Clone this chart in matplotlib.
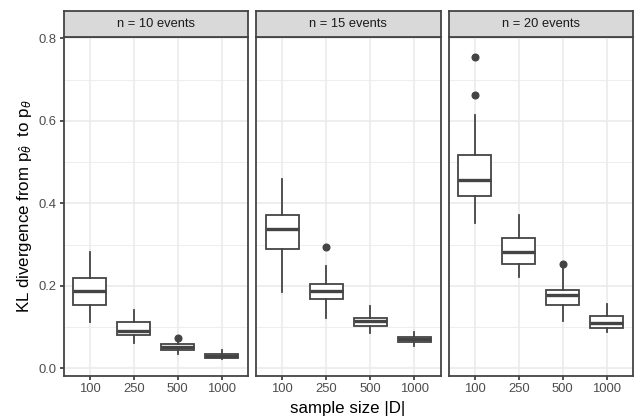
import matplotlib
matplotlib.use("Agg")
import matplotlib.pyplot as plt

plt.rcParams['font.family'] = ['Liberation Sans', 'DejaVu Sans']
plt.rcParams['mathtext.fontset'] = 'custom'
plt.rcParams['mathtext.rm'] = 'Liberation Sans'
plt.rcParams['mathtext.it'] = 'Liberation Sans:italic'
plt.rcParams['mathtext.bf'] = 'Liberation Sans:bold'

# ---- data ----
panels = ["n = 10 events", "n = 15 events", "n = 20 events"]
sample_sizes = ["100", "250", "500", "1000"]

# each row: [whisker_low, q1, median, q3, whisker_high]
stats_n10 = [[0.113, 0.153, 0.187, 0.220, 0.281],
             [0.061, 0.081, 0.091, 0.113, 0.141],
             [0.035, 0.044, 0.052, 0.059, 0.064],
             [0.022, 0.024, 0.030, 0.035, 0.044]]
out_n10 = [[], [], [0.074], []]

stats_n15 = [[0.186, 0.289, 0.337, 0.372, 0.459],
             [0.121, 0.168, 0.188, 0.204, 0.248],
             [0.085, 0.103, 0.114, 0.123, 0.152],
             [0.055, 0.064, 0.070, 0.076, 0.089]]
out_n15 = [[], [0.295], [], []]

stats_n20 = [[0.353, 0.417, 0.457, 0.517, 0.614],
             [0.222, 0.253, 0.282, 0.317, 0.371],
             [0.115, 0.153, 0.178, 0.191, 0.246],
             [0.087, 0.098, 0.111, 0.127, 0.156]]
out_n20 = [[0.754, 0.663], [], [0.254], []]

all_stats = [stats_n10, stats_n15, stats_n20]
all_out = [out_n10, out_n15, out_n20]

y_ticks = [0.0, 0.2, 0.4, 0.6, 0.8]
y_minor = [0.1, 0.3, 0.5, 0.7]

# ---- layout ----
W, H = 634, 418
fig = plt.figure(figsize=(W / 100, H / 100), dpi=100)
fig.patch.set_facecolor('white')

lefts = [63.5, 256.0, 448.5]
pw = 184.5
p_top, p_bot = 36.7, 375.5
s_top = 11.0

dark = '#444444'
lw = 1.3
grid_c = '#EBEBEB'

for i, (title, st, outs) in enumerate(zip(panels, all_stats, all_out)):
    ax = fig.add_axes([lefts[i] / W, 1 - p_bot / H, pw / W, (p_bot - p_top) / H])
    ax.set_facecolor('white')
    # grid
    for y in y_minor:
        ax.axhline(y, color=grid_c, lw=0.6, zorder=0)
    for y in y_ticks:
        ax.axhline(y, color=grid_c, lw=1.2, zorder=0)
    for x in range(1, len(sample_sizes) + 1):
        ax.axvline(x, color=grid_c, lw=1.2, zorder=0)

    bxp_stats = []
    for j, s in enumerate(st):
        bxp_stats.append(dict(whislo=s[0], q1=s[1], med=s[2], q3=s[3],
                              whishi=s[4], fliers=outs[j]))
    ax.bxp(bxp_stats, positions=range(1, len(sample_sizes) + 1), widths=0.75,
           showcaps=False, patch_artist=True,
           boxprops=dict(facecolor='white', edgecolor=dark, linewidth=lw),
           whiskerprops=dict(color=dark, linewidth=lw),
           medianprops=dict(color=dark, linewidth=2.4, solid_capstyle='butt'),
           flierprops=dict(marker='o', markerfacecolor=dark, markeredgecolor=dark,
                           markersize=4.8, linestyle='none'),
           zorder=3)

    ax.set_xlim(0.4, 4.6)
    ax.set_ylim(-0.0175, 0.804)
    ax.set_xticks(range(1, len(sample_sizes) + 1))
    ax.set_xticklabels(sample_sizes)
    ax.set_yticks(y_ticks)
    if i == 0:
        ax.set_yticklabels([f"{v:.1f}" for v in y_ticks])
        ax.tick_params(axis='y', length=3, width=lw, color=dark,
                       labelsize=9.4, labelcolor='#4D4D4D', pad=2.2)
    else:
        ax.tick_params(axis='y', length=0, labelleft=False)
    ax.tick_params(axis='x', length=3, width=lw, color=dark,
                   labelsize=9.4, labelcolor='#4D4D4D', pad=2.2)
    for sp in ax.spines.values():
        sp.set_color(dark)
        sp.set_linewidth(lw)
        sp.set_zorder(5)

    # strip
    sax = fig.add_axes([lefts[i] / W, 1 - p_top / H, pw / W, (p_top - s_top) / H])
    sax.set_xticks([]); sax.set_yticks([])
    sax.set_facecolor('#D9D9D9')
    for sp in sax.spines.values():
        sp.set_color(dark)
        sp.set_linewidth(lw)
    sax.text(0.5, 0.5, title, ha='center', va='center', fontsize=9.3,
             color='#1A1A1A', transform=sax.transAxes)

fig.text(348 / W, 1 - 408 / H, "sample size |D|", ha='center', va='center',
         fontsize=12.2, color='black')
fig.text(25 / W, 1 - 206 / H,
         r"KL divergence from $\mathrm{p}_{\hat{\theta}}$  to $\mathrm{p}_{\theta}$",
         ha='center', va='center', rotation=90, fontsize=12.2, color='black')

fig.savefig("out.png", dpi=100, facecolor='white')
